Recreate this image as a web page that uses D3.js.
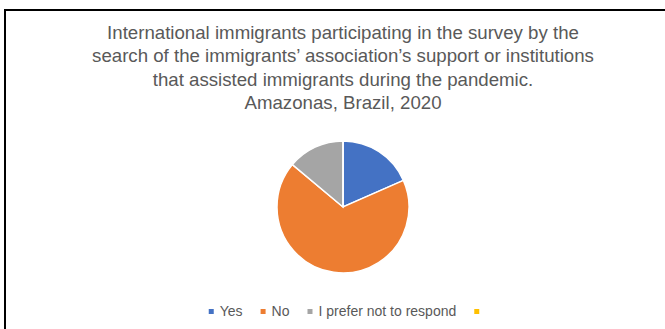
<!DOCTYPE html>
<html lang="en">
  <head>
    <meta charset="utf-8">
    <title>Immigrants survey pie</title>
    <script src="https://cdn.jsdelivr.net/npm/d3@7"></script>
    <style>
      body { margin: 0; background: #fff; }
      svg { display: block; }
    </style>
  </head>
  <body>
    <script type="text/javascript">
      // data
      var categories = ["Yes", "No", "I prefer not to respond", ""];
      var values = [18.4, 67.7, 13.9, 0];
      var colors = ["#4472C4", "#ED7D31", "#A5A5A5", "#FFC000"];
      var titleLines = [
        "International immigrants participating in the survey by the",
        "search of the immigrants\u2019 association\u2019s support or institutions",
        "that assisted immigrants during the pandemic.",
        "Amazonas, Brazil, 2020"
      ];

      var w = 665;
      var h = 329;
      var cx = 343, cy = 207, r = 66;

      var svg = d3.select("body")
                  .append("svg")
                  .attr("width", w)
                  .attr("height", h);

      // chart frame (runs off the right/bottom of the picture)
      svg.append("rect")
         .attr("x", 5)
         .attr("y", 10)
         .attr("width", w + 20)
         .attr("height", h + 20)
         .attr("fill", "#fff")
         .attr("stroke", "#000")
         .attr("stroke-width", 2);

      // title
      svg.append("g")
         .selectAll("text")
         .data(titleLines)
         .enter()
         .append("text")
         .attr("x", 343)
         .attr("y", function(d, i) { return 38.5 + i * 23.5; })
         .attr("text-anchor", "middle")
         .attr("font-family", "Liberation Sans, Arial, sans-serif")
         .attr("font-size", "18.67px")
         .attr("fill", "#595959")
         .text(function(d) { return d; });

      // pie
      var pie = d3.pie().sort(null).value(function(d) { return d; });
      var arc = d3.arc().innerRadius(0).outerRadius(r);

      svg.append("g")
         .attr("transform", "translate(" + cx + "," + cy + ")")
         .selectAll("path")
         .data(pie(values))
         .enter()
         .append("path")
         .attr("d", arc)
         .attr("fill", function(d, i) { return colors[i]; })
         .attr("stroke", "#fff")
         .attr("stroke-width", 1.5);

      // legend
      var legend = svg.append("g")
                      .attr("font-family", "Liberation Sans, Arial, sans-serif")
                      .attr("font-size", "14px")
                      .attr("fill", "#595959");

      var items = legend.selectAll("g")
                        .data(categories)
                        .enter()
                        .append("g");

      items.append("rect")
           .attr("width", 5)
           .attr("height", 5)
           .attr("y", 309)
           .attr("fill", function(d, i) { return colors[i]; });

      items.append("text")
           .attr("x", 11)
           .attr("y", 316)
           .text(function(d) { return d; });

      // lay items out left to right, centred
      var gap = 18, pos = [], total = 0;
      items.each(function() {
        var tw = d3.select(this).select("text").node().getComputedTextLength();
        var iw = tw > 0 ? 11 + tw : 5;
        pos.push(total);
        total += iw + gap;
      });
      total -= gap;
      var x0 = 344 - total / 2;
      items.attr("transform", function(d, i) { return "translate(" + (x0 + pos[i]) + ",0)"; });
    </script>
  </body>
</html>
